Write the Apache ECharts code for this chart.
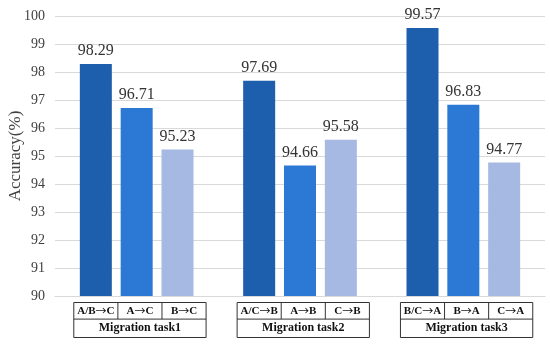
<!DOCTYPE html>
<html>
<head>
<meta charset="utf-8">
<script src="https://cdn.jsdelivr.net/npm/echarts@6/dist/echarts.min.js"></script>
<style>html,body{margin:0;padding:0;background:#fff}#c{width:550px;height:346px}</style>
</head>
<body>
<div id="c"></div>
<script>
var groupNames = ['Migration task1', 'Migration task2', 'Migration task3'];
var subLabels1 = ['A/B→C', 'A→C', 'B→C'];
var subLabels2 = ['A/C→B', 'A→B', 'C→B'];
var subLabels3 = ['B/C→A', 'B→A', 'C→A'];
var values1 = [98.29, 96.71, 95.23];
var values2 = [97.69, 94.66, 95.58];
var values3 = [99.57, 96.83, 94.77];
var yTicks = [90, 91, 92, 93, 94, 95, 96, 97, 98, 99, 100];

var colors = ['#1d5ead', '#2b79d4', '#a5b9e2'];
var FONT = '"Liberation Serif", "Times New Roman", serif';

var subs = [subLabels1, subLabels2, subLabels3];
var vals = [values1, values2, values3];
var categories = [''];
var data = [null];
for (var g = 0; g < 3; g++) {
  for (var i = 0; i < 3; i++) {
    categories.push(subs[g][i]);
    data.push({value: vals[g][i], itemStyle: {color: colors[i]}});
  }
  categories.push('');
  data.push(null);
}

var chart = echarts.init(document.getElementById('c'), null, {renderer: 'canvas'});
chart.setOption({
  animation: false,
  grid: {left: 55, right: 5, top: 16, bottom: 50, outerBoundsMode: 'none', containLabel: false},
  xAxis: {
    type: 'category',
    data: categories,
    boundaryGap: false,
    axisLine: {show: true, lineStyle: {color: '#d9d9d9'}},
    axisTick: {show: false},
    axisLabel: {show: false},
    splitLine: {show: false}
  },
  yAxis: {
    type: 'value',
    min: yTicks[0],
    max: yTicks[yTicks.length - 1],
    interval: 1,
    name: 'Accuracy(%)',
    nameLocation: 'middle',
    nameMoveOverlap: false,
    nameGap: 31,
    nameTextStyle: {fontFamily: FONT, fontSize: 17, color: '#404040'},
    axisLine: {show: false},
    axisTick: {show: false},
    axisLabel: {fontFamily: FONT, fontSize: 14, color: '#404040', margin: 10},
    splitLine: {lineStyle: {color: '#d9d9d9'}}
  },
  series: [{
    type: 'bar',
    data: data,
    barWidth: 32,
    label: {
      show: true,
      position: 'top',
      distance: 5,
      fontFamily: FONT,
      fontSize: 16,
      color: '#333'
    }
  }]
});

function richArrow(s) {
  return s.split('→').map(function (p) { return '{t|' + p + '}'; }).join('{a|→}');
}

function drawBoxes() {
  var els = [];
  var slot = chart.convertToPixel({xAxisIndex: 0}, 2) - chart.convertToPixel({xAxisIndex: 0}, 1);
  var axisY = chart.convertToPixel({yAxisIndex: 0}, yTicks[0]);
  var cellW = slot * 1.08;
  var top = axisY + 6.5, h1 = 16.6, h2 = 18.4;
  for (var g = 0; g < 3; g++) {
    var centers = [];
    for (var i = 0; i < 3; i++) centers.push(chart.convertToPixel({xAxisIndex: 0}, 1 + g * 4 + i));
    var left = centers[0] - cellW / 2;
    var width = cellW * 3;
    els.push({type: 'rect', shape: {x: left, y: top, width: width, height: h1 + h2},
      style: {fill: '#fff', stroke: '#333', lineWidth: 1}});
    els.push({type: 'line', shape: {x1: left, y1: top + h1, x2: left + width, y2: top + h1},
      style: {stroke: '#333', lineWidth: 1}});
    for (var i = 1; i < 3; i++) {
      var xx = left + cellW * i;
      els.push({type: 'line', shape: {x1: xx, y1: top, x2: xx, y2: top + h1},
        style: {stroke: '#333', lineWidth: 1}});
    }
    for (var i = 0; i < 3; i++) {
      els.push({type: 'text', x: left + cellW * (i + 0.5), y: top + h1 / 2,
        style: {text: richArrow(subs[g][i]), align: 'center', verticalAlign: 'middle',
          rich: {
            t: {fontFamily: FONT, fontSize: 11, fontWeight: 'bold', fill: '#111', color: '#111'},
            a: {fontFamily: '"Noto Sans CJK SC"', fontSize: 11, fontWeight: 'normal', fill: '#111', color: '#111'}
          }}});
    }
    els.push({type: 'text', x: left + width / 2, y: top + h1 + h2 / 2,
      style: {text: groupNames[g], fontFamily: FONT, fontSize: 12, fontWeight: 'bold', fill: '#111',
        align: 'center', verticalAlign: 'middle'}});
  }
  chart.setOption({graphic: els});
}
drawBoxes();
</script>
</body>
</html>
